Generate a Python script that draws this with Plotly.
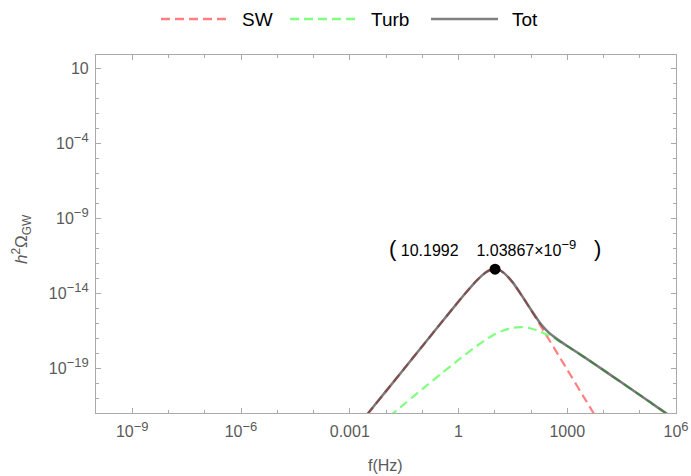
import math
import plotly.graph_objects as go

# ---- data (log10 values) ----
sw_logf = [-3, -2.5, -2, -1.5, -1, -0.5, 0, 0.25, 0.5, 0.75, 0.875, 1, 1.125, 1.25, 1.5, 1.75,
           2, 2.125, 2.25, 2.375, 2.5, 2.625, 2.75, 3, 3.5, 4]
sw_logy = [-23.55, -22.05, -20.55, -19.05, -17.55, -16.05, -14.56, -13.84, -13.16, -12.62, -12.46, -12.40,
           -12.46, -12.65, -13.30, -14.18, -15.13, -15.62, -16.12, -16.62, -17.11, -17.61, -18.11,
           -19.11, -21.11, -23.11]

turb_logf = [-2.5, -2, -1.5, -1, -0.5, 0, 0.5, 0.75, 1, 1.25, 1.5, 1.75, 2, 2.25, 2.5, 2.75, 3,
             3.5, 4, 4.5, 5, 5.5, 6]
turb_logy = [-23.41, -22.41, -21.41, -20.41, -19.42, -18.45, -17.53, -17.11, -16.75, -16.48, -16.31,
             -16.27, -16.36, -16.56, -16.83, -17.17, -17.54, -18.32, -19.14, -19.97, -20.80, -21.64, -22.47]

tot_logf = [-3, -2.5, -2, -1.5, -1, -0.5, 0, 0.25, 0.5, 0.75, 0.875, 1, 1.125, 1.25, 1.5, 1.75,
            2, 2.125, 2.25, 2.375, 2.5, 2.625, 2.75, 3, 3.5, 4, 4.5, 5, 5.5, 6]
tot_logy = [-23.49, -22.03, -20.54, -19.05, -17.55, -16.05, -14.56, -13.84, -13.16, -12.62, -12.46, -12.40,
            -12.46, -12.65, -13.30, -14.18, -15.11, -15.56, -15.99, -16.35, -16.65, -16.90, -17.12,
            -17.53, -18.32, -19.14, -19.97, -20.80, -21.64, -22.47]

peak_f = 10.1992
peak_logy = -12.40
peak_label_x = "10.1992"
peak_label_y = "1.03867×10<sup>−9</sup>"

x_tickvals = [1e-9, 1e-6, 1e-3, 1, 1e3, 1e6]
x_ticktext = ["10<sup>−9</sup>", "10<sup>−6</sup>", "0.001", "1", "1000", "10<sup>6</sup>"]
y_tickvals = [1e1, 1e-4, 1e-9, 1e-14, 1e-19]
y_ticktext = ["10", "10<sup>−4</sup>", "10<sup>−9</sup>", "10<sup>−14</sup>", "10<sup>−19</sup>"]

series_names = ["SW", "Turb", "Tot"]

# ---- styles ----
SW_COL = "rgb(255,128,128)"
TURB_COL = "rgb(128,255,128)"
TOT_COL = "rgba(55,55,55,0.66)"
AX_COL = "rgb(170,170,170)"
LBL_COL = "rgb(90,90,90)"
FONT = "Liberation Sans, Arial, Helvetica, sans-serif"
NB = "\u00a0"

def tolin(v):
    return [10 ** a for a in v]

def bigsup(t):
    return t.replace("<sup>", "<sup><span style='font-size:13px'>").replace("</sup>", "</span></sup>")

fig = go.Figure()
fig.add_trace(go.Scatter(x=tolin(sw_logf), y=tolin(sw_logy), mode="lines", name=series_names[0],
                         line=dict(color=SW_COL, width=2.2, dash="9px,5px", shape="spline", smoothing=0.6)))
fig.add_trace(go.Scatter(x=tolin(turb_logf), y=tolin(turb_logy), mode="lines", name=series_names[1],
                         line=dict(color=TURB_COL, width=2.2, dash="9px,5px", shape="spline", smoothing=0.6)))
fig.add_trace(go.Scatter(x=tolin(tot_logf), y=tolin(tot_logy), mode="lines", name=series_names[2],
                         line=dict(color=TOT_COL, width=2.5, shape="spline", smoothing=0.6)))
fig.add_trace(go.Scatter(x=[peak_f], y=[10 ** peak_logy], mode="markers",
                         marker=dict(color="black", size=11), showlegend=False, cliponaxis=False))

fig.add_annotation(x=math.log10(peak_f), y=peak_logy, xref="x", yref="y", yshift=21, showarrow=False,
                   xanchor="center", yanchor="middle",
                   text="<span style='font-size:22px'>(</span>" + NB + peak_label_x + NB * 4 + bigsup(peak_label_y) +
                        NB * 4 + "<span style='font-size:22px'>)</span>",
                   font=dict(family=FONT, size=16, color="black"))

# axis titles
W, H, L, T = 580.0, 358.0, 96.0, 55.0
def px(xp):
    return (xp - L) / W
def py(yp):
    return (T + H - yp) / H

fig.add_annotation(xref="paper", yref="paper", x=px(385), y=py(465), showarrow=False, text="f(Hz)",
                   xanchor="center", yanchor="middle", font=dict(family=FONT, size=16, color=LBL_COL))
fig.add_annotation(xref="paper", yref="paper", x=px(21), y=py(239), showarrow=False, textangle=-90,
                   xanchor="center", yanchor="middle",
                   text="<i>h</i><sup>2</sup>Ω<sub>GW</sub>", font=dict(family=FONT, size=17, color=LBL_COL))

# manual legend (line samples + labels)
leg_y = 19
leg_items = [(161, 226, 240, SW_COL, "dash"), (290, 356, 369, TURB_COL, "dash"), (431, 498, 510, "rgb(128,128,128)", "solid")]
for (x0, x1, xt, col, dsh), name in zip(leg_items, series_names):
    fig.add_shape(type="line", xref="paper", yref="paper", x0=px(x0), x1=px(x1), y0=py(leg_y), y1=py(leg_y),
                  line=dict(color=col, width=2.5, dash="9px,5px" if dsh == "dash" else "solid"))
    fig.add_annotation(xref="paper", yref="paper", x=px(xt), y=py(leg_y), xanchor="left", yanchor="middle",
                       showarrow=False, text=name, font=dict(family=FONT, size=19, color="black"))

fig.update_xaxes(type="log", range=[-10, 6], tickmode="array", tickvals=x_tickvals,
                 ticktext=[bigsup(t) for t in x_ticktext],
                 ticks="inside", ticklen=5, tickwidth=1, tickcolor=AX_COL, showline=True, linecolor=AX_COL,
                 linewidth=1.2, mirror="allticks", showgrid=False, zeroline=False, ticklabelstandoff=4,
                 automargin=False,
                 tickfont=dict(family=FONT, size=16, color=LBL_COL),
                 minor=dict(tickmode="array", tickvals=[10.0 ** k for k in range(-10, 7)], ticks="inside",
                            ticklen=3, tickcolor=AX_COL, showgrid=False))
fig.update_yaxes(type="log", range=[-22, 1.89], tickmode="array", tickvals=y_tickvals,
                 ticktext=[bigsup(t) for t in y_ticktext],
                 ticks="inside", ticklen=5, tickwidth=1, tickcolor=AX_COL, showline=True, linecolor=AX_COL,
                 linewidth=1.2, mirror="allticks", showgrid=False, zeroline=False, ticklabelstandoff=3,
                 automargin=False,
                 tickfont=dict(family=FONT, size=16, color=LBL_COL),
                 minor=dict(tickmode="array", tickvals=[10.0 ** k for k in range(-22, 2)], ticks="inside",
                            ticklen=3, tickcolor=AX_COL, showgrid=False))

fig.update_layout(width=691, height=476, margin=dict(l=96, r=15, t=55, b=63, autoexpand=False),
                  plot_bgcolor="white", paper_bgcolor="white", showlegend=False,
                  font=dict(family=FONT))
fig.write_html("out.html", config={"responsive": False, "displayModeBar": False},
               post_script="document.body.style.margin='0';document.body.style.padding='0';"
                           "document.body.style.overflow='hidden';")
